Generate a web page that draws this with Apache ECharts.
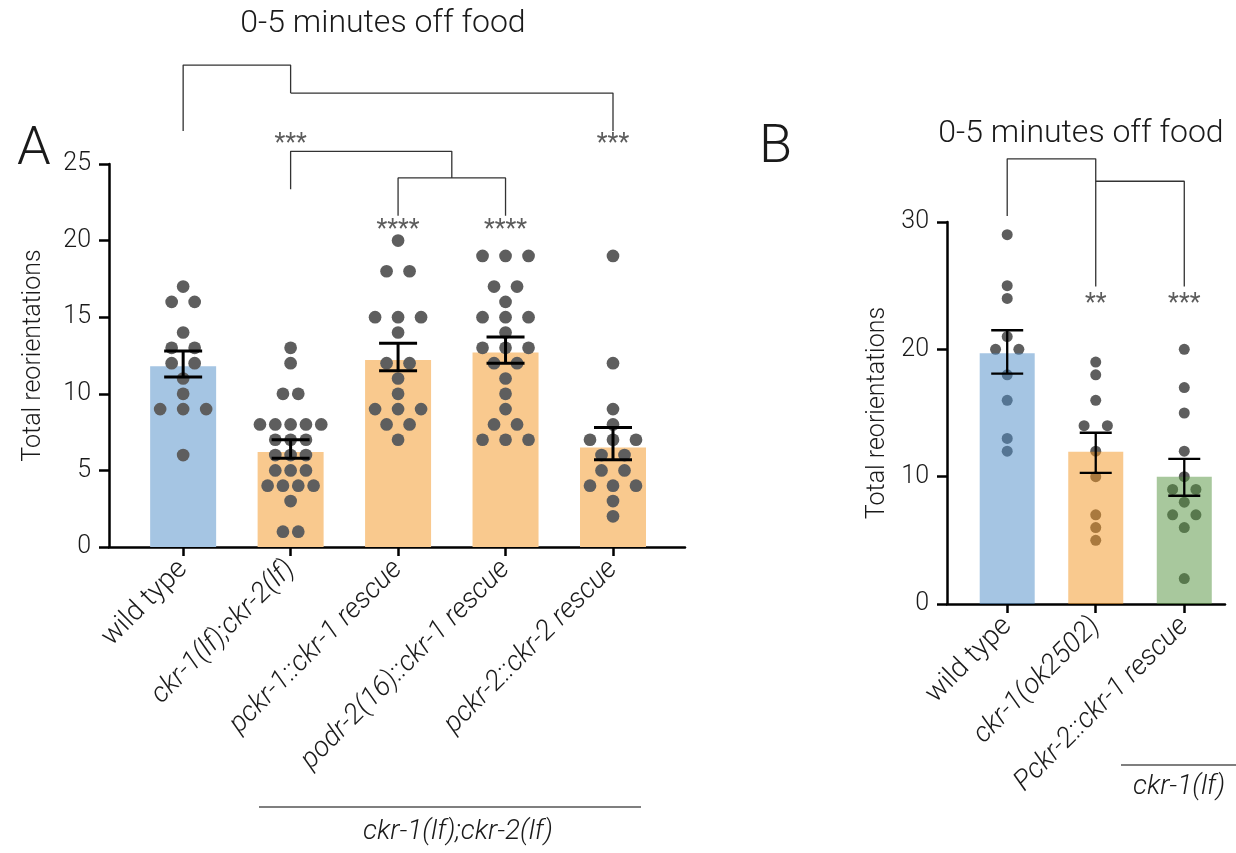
<!DOCTYPE html>
<html>
<head>
<meta charset="utf-8">
<script src="https://cdn.jsdelivr.net/npm/echarts@6.0.0/dist/echarts.min.js"></script>
<style>
    html, body { margin: 0; padding: 0; background: #fff; }
    #chart { width: 1236px; height: 853px; }
</style>
</head>
<body>
<div id="chart"></div>
<script>
    // panel A
    const catsA = ['wild type', 'ckr-1(lf);ckr-2(lf)', 'pckr-1::ckr-1 rescue', 'podr-2(16)::ckr-1 rescue', 'pckr-2::ckr-2 rescue']
    const meanA = [11.8, 6.2, 12.2, 12.7, 6.5]
    const errLowA = [11.1, 5.8, 11.5, 12.0, 5.7]
    const errHighA = [12.8, 7.0, 13.3, 13.7, 7.8]
    const dotsA = [
        [17, 16, 16, 14, 13, 13, 12, 12, 11, 10, 9, 9, 9, 6],
        [13, 12, 10, 10, 8, 8, 8, 8, 8, 7, 7, 7, 6, 6, 6, 5, 5, 5, 4, 4, 4, 4, 3, 1, 1],
        [20, 18, 18, 15, 15, 15, 14, 12, 12, 11, 10, 9, 9, 9, 8, 8, 7],
        [19, 19, 19, 17, 17, 16, 15, 15, 15, 14, 13, 13, 13, 12, 12, 11, 10, 9, 8, 8, 7, 7, 7],
        [19, 12, 9, 8, 7, 7, 7, 6, 6, 5, 5, 4, 4, 4, 3, 2]
    ]
    const ticksA = [0, 5, 10, 15, 20, 25]
    // brackets: [x, y] points, x = group index
    const bracketsA = [
        [[0, 27.15], [0, 31.46], [1, 31.46], [1, 29.63]],
        [[1, 29.63], [4, 29.63], [4, 27.15]],
        [[1, 23.35], [1, 25.83], [2.5, 25.83], [2.5, 24.09]],
        [[2, 21.63], [2, 24.09], [3, 24.09], [3, 21.63]]
    ]
    const starsA = [[1, 26.63, '***'], [4, 26.63, '***'], [2, 21.04, '****'], [3, 21.04, '****']]

    // panel B
    const catsB = ['wild type', 'ckr-1(ok2502)', 'Pckr-2::ckr-1 rescue']
    const meanB = [19.7, 11.95, 10.0]
    const errLowB = [18.1, 10.3, 8.5]
    const errHighB = [21.5, 13.45, 11.4]
    const dotsB = [
        [29, 25, 24, 21, 20, 20, 18, 16, 13, 12],
        [19, 18, 16, 14, 14, 12, 10, 7, 6, 5],
        [20, 17, 15, 12, 10, 9, 9, 8, 7, 7, 6, 2]
    ]
    const ticksB = [0, 10, 20, 30]
    const bracketsB = [
        [[0, 30.48], [0, 34.96], [1, 34.96], [1, 24.93]],
        [[1, 33.2], [2, 33.2], [2, 24.93]]
    ]
    const starsB = [[1, 23.98, '**'], [2, 23.98, '***']]

    const FONT = 'Roboto'
    const blue = '#a5c5e3'
    const orange = '#f9c98e'
    // panel B bars are half transparent and sit over the dots
    const colorsB = ['#4b8bc7', '#f3931d', '#51913b']
    const dotColor = '#5e5e5e'

    // beeswarm-ish offsets: points with same value are spread horizontally
    function swarm(groups, base, span) {
        const out = []
        groups.forEach((vals, gi) => {
            const counts = {}
            vals.forEach(v => { counts[v] = (counts[v] || 0) + 1 })
            const maxN = Math.max(...Object.values(counts))
            const step = maxN > 1 ? Math.min(base, span / (maxN - 1)) : base
            const seen = {}
            vals.forEach(v => {
                const n = counts[v]
                const k = seen[v] || 0
                seen[v] = k + 1
                out.push({ value: [gi, v], symbolOffset: [(k - (n - 1) / 2) * step, 0] })
            })
        })
        return out
    }

    function errorSeries(xi, yi, lo, hi, capW, lw) {
        return {
            type: 'custom',
            xAxisIndex: xi,
            yAxisIndex: yi,
            z: 5,
            data: lo.map((v, i) => [i, v, hi[i]]),
            renderItem(params, api) {
                const a = api.coord([api.value(0), api.value(1)])
                const b = api.coord([api.value(0), api.value(2)])
                const st = { stroke: '#000', lineWidth: lw }
                return {
                    type: 'group',
                    children: [
                        { type: 'line', shape: { x1: a[0], y1: a[1], x2: b[0], y2: b[1] }, style: st },
                        { type: 'line', shape: { x1: a[0] - capW / 2, y1: a[1], x2: a[0] + capW / 2, y2: a[1] }, style: st },
                        { type: 'line', shape: { x1: b[0] - capW / 2, y1: b[1], x2: b[0] + capW / 2, y2: b[1] }, style: st }
                    ]
                }
            }
        }
    }

    function bracketSeries(xi, yi, list) {
        return list.map(pts => ({
            type: 'line',
            xAxisIndex: xi,
            yAxisIndex: yi,
            data: pts,
            clip: false,
            symbol: 'none',
            silent: true,
            lineStyle: { color: '#333', width: 1.3 },
            z: 6
        }))
    }

    function starSeries(xi, yi, list) {
        return {
            type: 'scatter',
            xAxisIndex: xi,
            yAxisIndex: yi,
            clip: false,
            symbolSize: 0,
            data: list,
            label: {
                show: true,
                position: 'inside',
                offset: [0, 6],
                formatter: p => p.data[2],
                fontFamily: FONT,
                fontSize: 25,
                color: '#333'
            },
            z: 6
        }
    }

    const labelFont = { fontFamily: FONT, fontWeight: 300, color: '#1a1a1a' }

    function xAxisFor(gridIndex, cats, min, max) {
        const vals = cats.map((c, i) => i)
        return {
            type: 'value',
            gridIndex,
            min,
            max,
            axisLine: { show: true, onZero: false, lineStyle: { color: '#000', width: 2.5 } },
            axisTick: { show: true, customValues: vals, length: 9, lineStyle: { color: '#000', width: 2.5 } },
            splitLine: { show: false },
            axisLabel: {
                customValues: vals,
                rotate: 45,
                margin: 18,
                fontSize: 28,
                ...labelFont,
                formatter: v => {
                    const n = cats[Math.round(v)]
                    return n === 'wild type' ? n : '{i|' + n + '}'
                },
                rich: { i: { fontStyle: 'italic', fontSize: 28, fontFamily: FONT, fontWeight: 300, color: '#1a1a1a' } }
            }
        }
    }

    function yAxisFor(gridIndex, ticks, interval, gap) {
        return {
            type: 'value',
            gridIndex,
            min: ticks[0],
            max: ticks[ticks.length - 1],
            interval,
            name: 'Total reorientations',
            nameLocation: 'middle',
            nameGap: gap,
            nameTextStyle: { fontSize: 25, ...labelFont },
            axisLine: { show: true, onZero: false, lineStyle: { color: '#000', width: 2.5 } },
            axisTick: { show: true, length: 10, lineStyle: { color: '#000', width: 2.5 } },
            splitLine: { show: false },
            axisLabel: { fontSize: 25, margin: 18, ...labelFont }
        }
    }

    const chart = echarts.init(document.getElementById('chart'))
    const options = {
        backgroundColor: '#fff',
        animation: false,
        title: [
            { text: '0-5 minutes off food', left: 378, top: 3, textAlign: 'center', textStyle: { fontSize: 32, ...labelFont } },
            { text: '0-5 minutes off food', left: 1076, top: 113, textAlign: 'center', textStyle: { fontSize: 32, ...labelFont } },
            { text: 'A', left: 12, top: 118, textStyle: { fontSize: 54, ...labelFont } },
            { text: 'B', left: 754, top: 116, textStyle: { fontSize: 54, ...labelFont } }
        ],
        grid: [
            { left: 109, top: 164, width: 576, height: 383 },
            { left: 947, top: 222, width: 278, height: 382 }
        ],
        xAxis: [
            xAxisFor(0, catsA, -0.69, 4.67),
            xAxisFor(1, catsB, -0.68, 2.46)
        ],
        yAxis: [
            yAxisFor(0, ticksA, 5, 63),
            yAxisFor(1, ticksB, 10, 57)
        ],
        graphic: [
            { type: 'line', shape: { x1: 259, y1: 807, x2: 641, y2: 807 }, style: { stroke: '#555', lineWidth: 1.3 } },
            { type: 'text', x: 458, y: 832, style: { text: 'ckr-1(lf);ckr-2(lf)', align: 'center', verticalAlign: 'middle', font: 'italic 300 28px ' + FONT, fill: '#1a1a1a' } },
            { type: 'line', shape: { x1: 1121, y1: 765, x2: 1236, y2: 765 }, style: { stroke: '#555', lineWidth: 1.3 } },
            { type: 'text', x: 1179, y: 787, style: { text: 'ckr-1(lf)', align: 'center', verticalAlign: 'middle', font: 'italic 300 28px ' + FONT, fill: '#1a1a1a' } }
        ],
        series: [
            {
                type: 'bar',
                xAxisIndex: 0,
                yAxisIndex: 0,
                barWidth: 66,
                data: meanA.map((v, i) => ({ value: [i, v], itemStyle: { color: i === 0 ? blue : orange } })),
                z: 1
            },
            {
                type: 'scatter',
                xAxisIndex: 0,
                yAxisIndex: 0,
                symbolSize: 12.7,
                itemStyle: { color: dotColor, opacity: 1 },
                data: swarm(dotsA, 23, 61.3),
                z: 3
            },
            errorSeries(0, 0, errLowA, errHighA, 38, 3),
            ...bracketSeries(0, 0, bracketsA),
            starSeries(0, 0, starsA),
            {
                type: 'scatter',
                xAxisIndex: 1,
                yAxisIndex: 1,
                symbolSize: 11,
                itemStyle: { color: dotColor, opacity: 1 },
                data: swarm(dotsB, 23.3, 46),
                z: 1
            },
            {
                type: 'bar',
                xAxisIndex: 1,
                yAxisIndex: 1,
                barWidth: 55,
                data: meanB.map((v, i) => ({ value: [i, v], itemStyle: { color: colorsB[i], opacity: 0.5 } })),
                z: 2
            },
            errorSeries(1, 1, errLowB, errHighB, 32, 2.3),
            ...bracketSeries(1, 1, bracketsB),
            starSeries(1, 1, starsB)
        ]
    }
    chart.setOption(options)
</script>
</body>
</html>
